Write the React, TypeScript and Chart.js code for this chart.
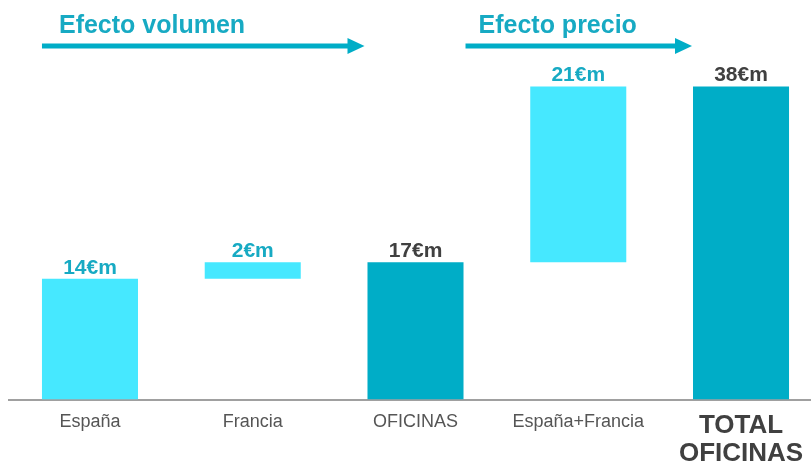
import React, { useEffect, useRef } from "react";
import { Chart, registerables } from "chart.js";

Chart.register(...registerables);

const categories: (string | string[])[] = ["España", "Francia", "OFICINAS", "España+Francia", ["TOTAL", "OFICINAS"]];
const barStart = [0, 14.65, 0, 16.67, 0];
const barEnd = [14.65, 16.67, 16.67, 38, 38];
const valueLabels = ["14€m", "2€m", "17€m", "21€m", "38€m"];
const isTotal = [false, false, true, false, true];
const sectionTitles = ["Efecto volumen", "Efecto precio"];

const LIGHT = "#46E8FF";
const DARK = "#00ADC7";
const TEAL_TEXT = "#17AAC3";
const DARK_TEXT = "#404040";
const FONT = "'Liberation Sans', Arial, sans-serif";

const overlayPlugin = {
  id: "overlay",
  afterDatasetsDraw(chart: any) {
    const ctx = chart.ctx;
    const meta = chart.getDatasetMeta(0);
    const bars = meta.data;
    ctx.save();
    // value labels
    ctx.font = `bold 21px ${FONT}`;
    ctx.textAlign = "center";
    ctx.textBaseline = "alphabetic";
    bars.forEach((b: any, i: number) => {
      const top = Math.min(b.y, b.base);
      ctx.fillStyle = isTotal[i] ? DARK_TEXT : TEAL_TEXT;
      ctx.fillText(valueLabels[i], b.x, top - 5);
    });
    // arrows + titles
    const left = (b: any) => b.x - b.width / 2;
    const right = (b: any) => b.x + b.width / 2;
    const arrows = [
      { x0: left(bars[0]), x1: left(bars[2]) - 3, tx: left(bars[0]) + 17, title: sectionTitles[0] },
      { x0: right(bars[2]) + 2, x1: left(bars[4]) - 1, tx: right(bars[2]) + 15, title: sectionTitles[1] },
    ];
    const ay = 46;
    arrows.forEach((a) => {
      ctx.fillStyle = DARK;
      ctx.fillRect(a.x0, ay - 2.5, a.x1 - a.x0 - 14, 5);
      ctx.beginPath();
      ctx.moveTo(a.x1 - 17, ay - 8);
      ctx.lineTo(a.x1, ay);
      ctx.lineTo(a.x1 - 17, ay + 8);
      ctx.closePath();
      ctx.fill();
      ctx.fillStyle = TEAL_TEXT;
      ctx.font = `bold 25px ${FONT}`;
      ctx.textAlign = "left";
      ctx.textBaseline = "alphabetic";
      ctx.fillText(a.title, a.tx, 33);
    });
    ctx.restore();
  },
};

export default function App() {
  const ref = useRef<HTMLCanvasElement | null>(null);
  useEffect(() => {
    if (!ref.current) return;
    const chart = new Chart(ref.current, {
      type: "bar",
      data: {
        labels: categories,
        datasets: [
          {
            data: barStart.map((s, i) => [s, barEnd[i]]) as any,
            backgroundColor: isTotal.map((t) => (t ? DARK : LIGHT)),
            borderWidth: 0,
            barPercentage: 0.59,
            categoryPercentage: 1,
          },
        ],
      },
      options: {
        animation: false,
        responsive: true,
        maintainAspectRatio: false,
        layout: { padding: { left: 8.6, right: 7.6, top: 0, bottom: 0 } },
        plugins: { legend: { display: false }, tooltip: { enabled: false } },
        scales: {
          y: { display: false, min: 0, max: 48.5 },
          x: {
            afterFit: (scale: any) => {
              scale.height = 63.5;
            },
            grid: { display: false, drawTicks: false },
            border: { display: true, color: "#A0A0A0", width: 2 },
            ticks: {
              padding: 12,
              maxRotation: 0,
              autoSkip: false,
              color: (c: any) => (c.index === 4 ? DARK_TEXT : "#555555"),
              font: (c: any) =>
                c.index === 4
                  ? { family: FONT, size: 26, weight: "bold", lineHeight: 28 / 26 }
                  : { family: FONT, size: 18, lineHeight: 1.12 },
            },
          },
        },
      },
      plugins: [overlayPlugin],
    });
    return () => chart.destroy();
  }, []);
  return (
    <div style={{ position: "fixed", left: 0, top: 0, width: 830, height: 463, background: "#fff" }}>
      <canvas ref={ref} />
    </div>
  );
}
